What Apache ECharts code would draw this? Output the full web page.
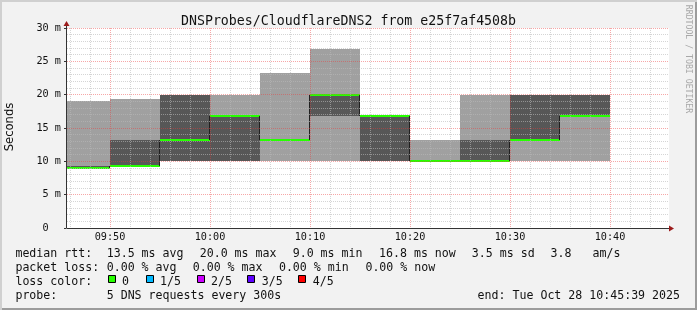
<!DOCTYPE html>
<html><head><meta charset="utf-8">
<script src="https://cdn.jsdelivr.net/npm/echarts@6/dist/echarts.min.js"></script>
<style>
html,body{margin:0;padding:0;background:#f2f2f2;}
#wrap{position:relative;width:697px;height:310px;background:#f2f2f2;box-shadow:inset 2px 2px 0 #d0d0d0, inset -2px -2px 0 #9c9c9c;}
#chart{position:absolute;left:0;top:0;width:697px;height:310px;}
</style></head><body>
<div id="wrap"><div id="chart"></div></div>
<script>
// ---- data ----
const chartTitle = 'DNSProbes/CloudflareDNS2 from e25f7af4508b';
const intervalStarts = ['09:45','09:50','09:55','10:00','10:05','10:10','10:15','10:20','10:25','10:30','10:35'];
const pingMin   = [9.0, 9.2, 10.0, 10.0, 10.0, 10.0, 10.0, 10.0, 10.0, 10.0, 10.0];
const pingLow   = [9.0, 9.3, 10.0, 10.0, 13.2, 16.8, 10.0, 10.0, 10.0, 13.2, 16.8];
const medianRtt = [9.0, 9.3, 13.2, 16.8, 13.2, 20.0, 16.8, 10.0, 10.0, 13.2, 16.8];
const pingHigh  = [9.3, 13.2, 20.0, 16.8, 13.2, 20.0, 16.8, 10.0, 13.2, 20.0, 20.0];
const pingMax   = [19.0, 19.4, 20.0, 20.0, 23.3, 26.9, 16.8, 13.2, 20.0, 20.0, 20.0];
const timeTickLabels = ['09:50','10:00','10:10','10:20','10:30','10:40'];
const lossLabels = ['0','1/5','2/5','3/5','4/5'];
const lossColors = ['#26ff00','#00b8ff','#cc00ff','#5e00ff','#ff0000'];
const legendLine1 = ['median rtt:','13.5 ms avg','20.0 ms max','9.0 ms min','16.8 ms now','3.5 ms sd','3.8   am/s'];
const legendLine2 = ['packet loss:','0.00 % avg','0.00 % max','0.00 % min','0.00 % now'];
const probeText = ['probe:','5 DNS requests every 300s'];
const endText = 'end: Tue Oct 28 10:45:39 2025';

// ---- helpers ----
function toMin(s){ const p = s.split(':').map(Number); return p[0]*60 + p[1]; }
const X_MIN = toMin('09:45') + 0.7, X_MAX = toMin('10:45') + 0.9;
const SLOT = 5;
const mono = '"DejaVu Sans Mono", monospace';
const legFont = '11.6px ' + mono;

const smokeData = intervalStarts.map((s,i)=>[toMin(s), pingMin[i], pingLow[i], medianRtt[i], pingHigh[i], pingMax[i]]);
const gridMinutes = [];
for (let m = Math.ceil(X_MIN/2)*2; m <= X_MAX; m += 2) gridMinutes.push([m, 0]);

const chart = echarts.init(document.getElementById('chart'), null, {renderer:'canvas'});

const graphics = [];
function addText(x, y, t){
  graphics.push({type:'text', x:x, y:y, silent:true,
    style:{text:t, font:legFont, fill:'#111', verticalAlign:'middle', align:'left'}});
}
const l1x = [16,107.3,200.3,293.3,379.6,472.4,551.2];
legendLine1.forEach((t,i)=>addText(l1x[i]-0.6, 254, t));
const l2x = [16,107.3,193.3,279.5,366];
legendLine2.forEach((t,i)=>addText(l2x[i]-0.6, 268, t));
addText(16-0.6, 282, 'loss color:');
const boxX = [108.3,145.7,196.7,247.3,298.3];
const labX = [122.7,160.7,211.7,262.3,313.3];
lossLabels.forEach((t,i)=>{
  graphics.push({type:'rect', silent:true, shape:{x:Math.round(boxX[i])+0.5, y:275.5, width:7, height:7},
    style:{fill:lossColors[i], stroke:'#000', lineWidth:1}});
  addText(labX[i]-0.6, 282, t);
});
addText(16-0.6, 296, probeText[0]);
addText(107.3-0.6, 296, probeText[1]);
graphics.push({type:'text', x:680, y:296, silent:true,
  style:{text:endText, font:legFont, fill:'#111', verticalAlign:'middle', align:'right'}});
// axis label "Seconds"
graphics.push({type:'text', x:10, y:127, rotation:Math.PI/2, silent:true,
  style:{text:'Seconds', font:'11.6px "DejaVu Sans", sans-serif', fill:'#111', align:'center', verticalAlign:'middle'}});
// watermark
graphics.push({type:'text', x:688, y:59, rotation:-Math.PI/2, silent:true,
  style:{text:'RRDTOOL / TOBI OETIKER', font:'8.2px ' + mono, fill:'#a8a8a8', align:'center', verticalAlign:'middle'}});
// axis extensions and arrows
graphics.push({type:'line', silent:true, z:10, shape:{x1:66.5,y1:28,x2:66.5,y2:24}, style:{stroke:'#333',lineWidth:1}});
graphics.push({type:'polygon', silent:true, z:10, shape:{points:[[66.5,21],[63.5,26],[69.5,26]]}, style:{fill:'#9c1c1c'}});
graphics.push({type:'line', silent:true, z:10, shape:{x1:669,y1:228.5,x2:670,y2:228.5}, style:{stroke:'#333',lineWidth:1}});
graphics.push({type:'polygon', silent:true, z:10, shape:{points:[[674,228.5],[669,225.5],[669,231.5]]}, style:{fill:'#9c1c1c'}});

const option = {
  animation:false,
  title:{text:chartTitle, left:'center', top:10,
    textStyle:{fontFamily:mono, fontSize:13.25, fontWeight:'normal', color:'#111'}},
  grid:{left:67, top:28, width:602, height:200, show:true, backgroundColor:'#ffffff', borderWidth:0},
  xAxis:{type:'value', min:X_MIN, max:X_MAX, z:3,
    axisLine:{show:true, onZero:false, lineStyle:{color:'#333', width:1}},
    axisTick:{show:false},
    splitLine:{show:false},
    axisLabel:{customValues: timeTickLabels.map(toMin), margin:4,
      formatter:(v)=>{ const i = timeTickLabels.map(toMin).indexOf(Math.round(v)); return i>=0 ? timeTickLabels[i] : ''; },
      fontFamily:mono, fontSize:10.2, color:'#111'}
  },
  yAxis:{type:'value', min:0, max:30, interval:5, z:3, offset:1,
    axisLine:{show:true, lineStyle:{color:'#333', width:1}},
    axisTick:{show:true, length:2, lineStyle:{color:'#333'}},
    axisLabel:{margin:5, fontFamily:mono, fontSize:10.2, color:'#111',
      formatter:(v)=> v===0 ? '0  ' : (v + ' m')},
    splitLine:{show:true, lineStyle:{color:'rgba(235,60,60,0.45)', width:1, type:[1,1]}},
    minorTick:{show:false, splitNumber:5},
    minorSplitLine:{show:true, lineStyle:{color:'rgba(185,185,185,0.6)', width:1, type:[1,1]}}
  },
  series:[
    {type:'custom', name:'smoke', z:2, clip:true, silent:true,
      data: smokeData, encode:{x:0, y:[1,5]},
      renderItem:(params, api)=>{
        const i = params.dataIndex;
        const t0 = api.value(0);
        const xa = Math.round(api.coord([t0,0])[0]);
        const xb = Math.round(api.coord([t0+SLOT,0])[0]);
        const yv = v => Math.round(api.coord([t0, v])[1]);
        const ch = [];
        const lo = api.value(1), l2 = api.value(2), md = api.value(3), h4 = api.value(4), hi = api.value(5);
        ch.push({type:'rect', shape:{x:xa, y:yv(hi), width:xb-xa, height:yv(lo)-yv(hi)}, style:{fill:'#a0a0a0'}});
        if (h4 > l2) ch.push({type:'rect', shape:{x:xa, y:yv(h4), width:xb-xa, height:yv(l2)-yv(h4)}, style:{fill:'#575757'}});
        if (i > 0) {
          const pm = medianRtt[i-1];
          ch.push({type:'line', shape:{x1:xa-0.5, y1:yv(pm), x2:xa-0.5, y2:yv(md)}, style:{stroke:'#202020', lineWidth:1}});
        }
        ch.push({type:'rect', shape:{x:xa, y:yv(md)-1, width:xb-xa, height:2}, style:{fill:lossColors[0]}});
        return {type:'group', children:ch};
      }
    },
    {type:'custom', name:'xgrid', z:3, silent:true,
      data: gridMinutes, encode:{x:0, y:1},
      renderItem:(params, api)=>{
        const m = api.value(0);
        const major = (m % 10) === 0;
        const x = Math.round(api.coord([m,0])[0]) + 0.5;
        const y0 = api.coord([m,0])[1], y1 = api.coord([m,30])[1];
        return {type:'line', shape:{x1:x, y1:y1, x2:x, y2:y0},
          style:{stroke: major ? 'rgba(235,60,60,0.45)' : 'rgba(185,185,185,0.6)', lineWidth:1, lineDash:[1,1]}};
      }
    }
  ],
  graphic: graphics
};
chart.setOption(option);
</script>
</body></html>
